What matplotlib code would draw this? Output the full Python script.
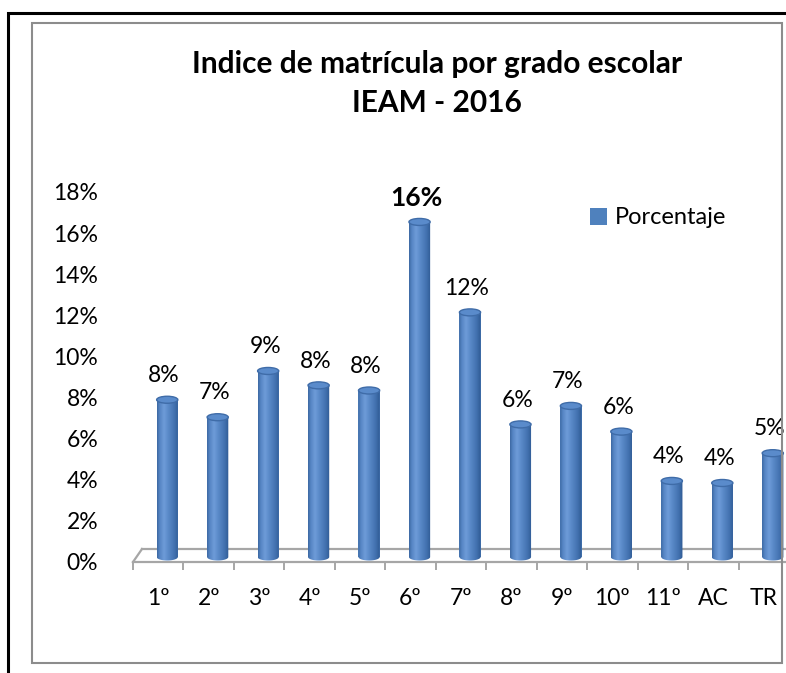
import numpy as np
import matplotlib
matplotlib.use("Agg")
import matplotlib.pyplot as plt
from matplotlib.transforms import ScaledTranslation
from matplotlib.patches import Polygon, Ellipse, Rectangle, Patch
from matplotlib.colors import LinearSegmentedColormap

# ---- data ----
categories = ["1º", "2º", "3º", "4º", "5º", "6º", "7º", "8º", "9º", "10º", "11º", "AC", "TR"]
values = [0.0765, 0.068, 0.0905, 0.0835, 0.081, 0.163, 0.119, 0.0645, 0.0735, 0.061, 0.037, 0.036, 0.0505]
title_lines = ["Indice de matrícula por grado escolar", "IEAM - 2016"]
series_name = "Porcentaje"
y_ticks = [0.00, 0.02, 0.04, 0.06, 0.08, 0.10, 0.12, 0.14, 0.16, 0.18]
highlight = "6º"

plt.rcParams['font.family'] = ['Lato', 'DejaVu Sans']

W, H = 786, 673
fig = plt.figure(figsize=(W / 100, H / 100), dpi=100)

def fx(px):
    return px / W

def fy(py):
    return 1 - py / H

# borders
fig.patches.append(Rectangle((fx(8), fy(700)), fx(900), fy(13) - fy(700), transform=fig.transFigure,
                             fill=False, edgecolor='black', linewidth=2.2))
fig.patches.append(Rectangle((fx(32), fy(663)), fx(782 - 32), fy(23) - fy(663), transform=fig.transFigure,
                             fill=False, edgecolor='#8c8c8c', linewidth=1.5))

# axes: x from 133 to 789 px, y 0 at 562, 0.18 at 192
ax_left, ax_right, ax_bot, ax_top = 133, 789, 562, 192
ax = fig.add_axes([fx(ax_left), fy(ax_bot), (ax_right - ax_left) / W, (ax_bot - ax_top) / H])
ax.set_xlim(-0.5, len(categories) - 0.5)
ax.set_ylim(0, 0.18)
for s in ax.spines.values():
    s.set_visible(False)
ax.patch.set_visible(False)

x = np.arange(len(categories))
bar_dx, bar_dy = 9 / 100, 5 / 100  # inches
trans = ax.transData + ScaledTranslation(bar_dx, bar_dy, fig.dpi_scale_trans)
back_trans = ax.transData + ScaledTranslation(9 / 100, 13 / 100, fig.dpi_scale_trans)

# floor
floor_col = '#a6a6a6'
x0, x1 = -0.5, len(categories) - 0.5
ax.plot([x0, x1], [0, 0], color=floor_col, lw=1.6, clip_on=False, zorder=1)
ax.plot([x0, x1], [0, 0], color=floor_col, lw=1.6, clip_on=False, zorder=1, transform=back_trans)
left_front = ax.transData.transform((x0, 0))
left_back = back_trans.transform((x0, 0))
fig.add_artist(plt.Line2D([left_front[0] / W, left_back[0] / W], [left_front[1] / H, left_back[1] / H],
                          color=floor_col, lw=1.6))

# ticks
fs = 16.5
ax.set_xticks(x)
ax.set_xticklabels(categories, fontsize=fs)
ax.set_xticks(np.arange(-0.5, len(categories), 1.0), minor=True)
ax.tick_params(axis='x', which='major', length=0, pad=19)
ax.tick_params(axis='x', which='minor', length=6, width=1.4, color=floor_col, direction='out')
ax.set_yticks(y_ticks)
ax.set_yticklabels([f"{int(round(t * 100))}%" for t in y_ticks], fontsize=fs)
ax.tick_params(axis='y', length=0, pad=25)

# cylinders
cmap = LinearSegmentedColormap.from_list('cyl', [
    (0.0, '#3d69a3'), (0.12, '#5685c4'), (0.32, '#6e9cd8'), (0.5, '#5b8bca'),
    (0.8, '#4372b0'), (1.0, '#2f5b94')])
grad = np.linspace(0, 1, 64).reshape(1, -1)
bw = 0.42
eh = 7 / ((ax_bot - ax_top) / 0.18)

bars = ax.bar(x, values, width=bw, color='#4f81bd', transform=trans, zorder=2)
for xi, v in zip(x, values):
    t = np.linspace(np.pi, 2 * np.pi, 30)
    arc_x = xi + (bw / 2) * np.cos(t)
    arc_y = (eh / 2) * np.sin(t)
    pts = [(xi - bw / 2, v)] + list(zip(arc_x, arc_y)) + [(xi + bw / 2, v)]
    clip = Polygon(pts, closed=True, transform=trans, facecolor='none', edgecolor='none')
    ax.add_patch(clip)
    im = ax.imshow(grad, cmap=cmap, aspect='auto', extent=[xi - bw / 2, xi + bw / 2, -eh, v],
                   transform=trans, zorder=3, interpolation='bilinear')
    im.set_clip_path(clip)
    top = Ellipse((xi, v), bw, eh, transform=trans, facecolor='#5a8bcb', edgecolor='#3f6ca8',
                  linewidth=1.0, zorder=4)
    ax.add_patch(top)

ax.set_xlim(-0.5, len(categories) - 0.5)
ax.set_ylim(0, 0.18)

# data labels
for xi, v, c in zip(x, values, categories):
    lab = f"{int(round(v * 100))}%"
    bold = (c == highlight)
    ax.annotate(lab, (xi, v), xycoords=trans, xytext=(-2.2, 17.5), textcoords='offset points',
                ha='center', va='center', fontsize=19 if bold else fs,
                fontweight='bold' if bold else 'normal', zorder=5)

# title
fig.text(fx(437), fy(73), title_lines[0], ha='center', va='baseline', fontsize=21.5, fontweight='bold')
fig.text(fx(437), fy(112), title_lines[1], ha='center', va='baseline', fontsize=21.5, fontweight='bold')

# legend
fig.legend(handles=[Patch(facecolor='#4f81bd', edgecolor='none', label=series_name)],
           loc='center left', bbox_to_anchor=(fx(590), fy(218)), frameon=False, fontsize=fs + 0.5,
           handlelength=0.7, handleheight=0.7, handletextpad=0.35, borderpad=0, borderaxespad=0)

fig.savefig("out.png", dpi=100)
